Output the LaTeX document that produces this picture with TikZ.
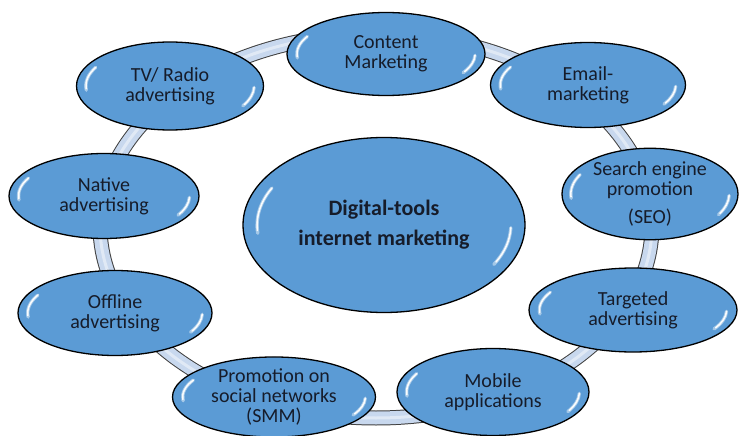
\documentclass[tikz,border=0pt]{standalone}
\usepackage{fontspec}
\setmainfont{Carlito}
\usetikzlibrary{shapes.geometric,backgrounds,calc}

\definecolor{bubblefill}{RGB}{91,155,213}
\definecolor{ringfill}{RGB}{200,216,238}
\definecolor{inktext}{RGB}{22,28,42}

\tikzset{
  glint/.style={white, line width=3.4pt, line cap=round, opacity=.45},
  glintcore/.style={white, line width=1.6pt, line cap=round, opacity=.95},
  bubble/.style={ellipse, draw=black, line width=1.3pt, fill=bubblefill,
    inner sep=0pt, align=center, text=inktext, font=\fontsize{20}{20}\selectfont,
    path picture={
      \path let \p1=(path picture bounding box.center),
                \p2=(path picture bounding box.north east),
                \n1={(\x2-\x1)*.90}, \n2={(\y2-\y1)*.90} in
        (\p1) ++(152:\n1 and \n2) coordinate (gl-a)
        (\p1) ++(-2:\n1 and \n2) coordinate (gl-b)
        [/utils/exec={\xdef\glrx{\n1}\xdef\glry{\n2}}];
      \draw[glint] (gl-a) arc[start angle=152, end angle=186, x radius=\glrx, y radius=\glry]
                   (gl-b) arc[start angle=-2, end angle=-30, x radius=\glrx, y radius=\glry];
      \draw[glintcore] (gl-a) ++(0,0) arc[start angle=152, end angle=184, x radius=\glrx, y radius=\glry]
                   (gl-b) arc[start angle=-2, end angle=-28, x radius=\glrx, y radius=\glry];
    }},
  ring/.style={draw=black!75, line width=1pt, double=ringfill, double distance=13pt}
}

\begin{document}
\begin{tikzpicture}[x=1pt, y=1pt]
  \useasboundingbox (0,0) rectangle (740,-436);

  % hub in the middle
  \node[bubble, minimum width=282, minimum height=175, font=\fontsize{22}{30}\selectfont\bfseries]
    (hub) at (384,-225) {Digital-tools\\internet marketing};

  % tools round the ring, clockwise from the top
  \node[bubble, minimum width=198, minimum height=83] (content) at (386,-54)  {Content\\Marketing};
  \node[bubble, minimum width=195, minimum height=85] (email)   at (588,-85)  {Email-\\marketing};
  \node[bubble, minimum width=176, minimum height=86] (seo)     at (650,-194) {Search engine\\promotion\\[8pt](SEO)};
  \node[bubble, minimum width=208, minimum height=84] (target)  at (633,-310) {Targeted\\advertising};
  \node[bubble, minimum width=192, minimum height=87] (mobile)  at (493,-392) {Mobile\\applications};
  \node[bubble, minimum width=203, minimum height=79] (smm)     at (274,-397) {Promotion on\\social networks\\(SMM)};
  \node[bubble, minimum width=194, minimum height=85] (offline) at (115,-313) {Offline\\advertising};
  \node[bubble, minimum width=190, minimum height=85] (native)  at (104,-196) {Native\\advertising};
  \node[bubble, minimum width=187, minimum height=88] (tv)      at (170,-86)  {TV/ Radio\\advertising};

  % the band behind the tools
  \begin{scope}[on background layer]
    \coordinate (ringc) at (376,-226);
    \draw[ring] (ringc) ellipse[x radius=276, y radius=192];
    \draw[white, opacity=.45, line width=3pt] (ringc) ellipse[x radius=276, y radius=192];
  \end{scope}

\end{tikzpicture}
\end{document}
